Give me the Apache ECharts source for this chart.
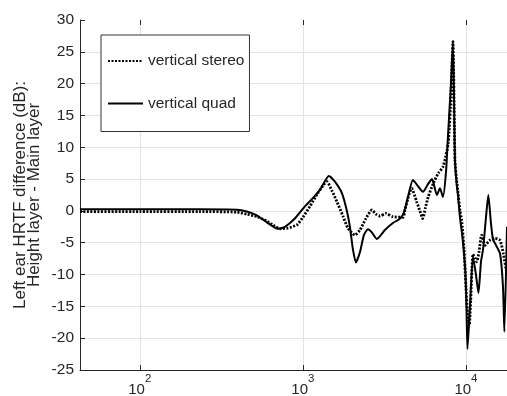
<!DOCTYPE html>
<html>
<head>
<meta charset="utf-8">
<script src="https://cdn.jsdelivr.net/npm/echarts@6/dist/echarts.min.js"></script>
<style>
html,body{margin:0;padding:0;background:#fff;}
#chart{width:507px;height:396px;}
</style>
</head>
<body>
<div id="chart"></div>
<script>
// Frequencies (Hz) and level differences (dB)
const stereoFreq = [43, 100, 233, 394, 453, 522, 601, 673, 723, 809, 919, 1000, 1104, 1236, 1404, 1506, 1617, 1760, 1889, 2084, 2238, 2435, 2651, 2805, 2968, 3230, 3566, 4108, 4226, 4409, 4645, 4985, 5222, 5425, 5643, 5866, 6300, 6763, 7250, 7780, 8091, 8322, 8560, 8750, 8931, 9189, 9410, 9721, 10000, 10214, 10476, 10700, 11039, 11400, 11630, 12017, 12480, 13085, 14040, 15070, 16170, 16940, 17850];
const stereoDb   = [-0.1, -0.1, -0.1, -0.2, -0.5, -0.9, -1.6, -2.4, -2.8, -2.7, -2.2, -1.0, 0.7, 2.8, 4.6, 3.2, 1.45, -0.8, -2.7, -3.8, -3.0, -1.2, 0.15, -0.5, -0.8, -0.4, -0.9, -1.0, 0.15, 2.0, 3.55, 1.45, 0, -1.2, 0.5, 2.2, 4.3, 5.9, 7.0, 10.6, 18, 26.6, 8, 5, 3, 0, -1.4, -6, -12, -16, -18, -14, -6.8, -7.5, -8, -6.5, -3.8, -5.4, -4.6, -4.3, -4.6, -6.7, -10];

const quadFreq = [43, 100, 233, 394, 453, 522, 601, 703, 776, 893, 1029, 1152, 1272, 1444, 1572, 1735, 1862, 1943, 2026, 2115, 2238, 2367, 2505, 2651, 2844, 3185, 3566, 3900, 4108, 4226, 4409, 4730, 5078, 5447, 5847, 6185, 6639, 6926, 7226, 7539, 7755, 8091, 8322, 8560, 8750, 8931, 9189, 9450, 9721, 9930, 10070, 10214, 10580, 11039, 11516, 11931, 12360, 12720, 13270, 13710, 14240, 14650, 15070, 16170, 16870, 17200, 17850];
const quadDb   = [0.25, 0.25, 0.25, 0.2, -0.1, -0.7, -1.8, -2.8, -2.5, -1.2, 0.7, 2.0, 3.3, 5.5, 4.6, 2.8, 0, -2.5, -6, -8.1, -6.5, -3.8, -2.9, -3.4, -4.4, -3.0, -1.9, -1.3, -0.6, 0.3, 2.2, 4.85, 3.9, 3.0, 4.2, 5.0, 2.5, 3.55, 2.2, 6, 11.7, 20, 26.6, 8, 4.5, 2.5, -1, -3.5, -6.5, -10, -15, -21.7, -15, -7.2, -10, -12.9, -8, -6.1, -1, 2.5, -2, -4.5, -5.1, -6.7, -12, -19, -2.5];

const xMin = 43, xMax = 17850;
const yMin = -25, yMax = 30, yStep = 5;
const seriesNames = ['vertical stereo', 'vertical quad'];
const yTitle = 'Left ear HRTF difference (dB):\nHeight layer - Main layer';

const FONT = '"Liberation Sans", Helvetica, Arial, sans-serif';
const INK = '#262626';

function pairs(xs, ys) { return xs.map((x, i) => [x, ys[i]]); }
function isPow10(v) { const l = Math.log10(v); return Math.abs(l - Math.round(l)) < 1e-6; }

const chart = echarts.init(document.getElementById('chart'), null, {renderer: 'canvas'});
chart.setOption({
  animation: false,
  backgroundColor: '#fff',
  textStyle: {fontFamily: FONT},
  grid: {left: 80, top: 20, right: 0, bottom: 26, containLabel: false, outerBoundsMode: 'none'},
  legend: {
    orient: 'vertical',
    left: 101, top: 35,
    padding: [18, 5, 20, 6],
    itemGap: 26.5,
    itemWidth: 35, itemHeight: 14,
    borderColor: '#333', borderWidth: 1,
    backgroundColor: '#fff',
    itemStyle: {color: 'transparent', borderWidth: 0, borderColor: 'transparent'},
    textStyle: {fontSize: 15.5, color: INK, fontFamily: FONT},
    data: seriesNames
  },
  xAxis: [{
    type: 'log', logBase: 10, min: xMin, max: xMax,
    axisLine: {show: true, onZero: false, lineStyle: {color: INK, width: 1}},
    axisTick: {show: true, inside: true, length: 5, lineStyle: {color: INK}},
    minorTick: {show: false},
    splitLine: {show: true, showMinLine: false, showMaxLine: false, lineStyle: {color: '#e3e3e3', width: 1}},
    axisLabel: {
      margin: 12,
      formatter: function (v) {
        if (!isPow10(v)) return '';
        return '{b|10}{s|' + Math.round(Math.log10(v)) + '}';
      },
      rich: {
        b: {fontSize: 15, color: INK, fontFamily: FONT, lineHeight: 16, verticalAlign: 'middle'},
        s: {fontSize: 11.5, color: INK, fontFamily: FONT, lineHeight: 12, verticalAlign: 'middle', padding: [0, 0, 22, 0]}
      }
    }
  }, {
    type: 'log', logBase: 10, min: xMin, max: xMax, position: 'top',
    axisLine: {show: false, onZero: false},
    axisTick: {show: true, inside: true, length: 5, lineStyle: {color: INK}},
    axisLabel: {show: false},
    splitLine: {show: false}
  }],
  yAxis: {
    type: 'value', min: yMin, max: yMax, interval: yStep,
    name: yTitle,
    nameLocation: 'middle',
    nameGap: 39,
    nameMoveOverlap: false,
    nameTextStyle: {fontSize: 17, color: INK, lineHeight: 13.5, fontFamily: FONT},
    axisLine: {show: true, onZero: false, lineStyle: {color: INK, width: 1}},
    axisTick: {show: true, inside: true, length: 5, lineStyle: {color: INK}},
    splitLine: {show: true, showMinLine: false, showMaxLine: false, lineStyle: {color: '#e3e3e3', width: 1}},
    axisLabel: {fontSize: 15.5, color: INK, margin: 6, fontFamily: FONT}
  },
  series: [{
    name: seriesNames[0], type: 'line', xAxisIndex: 0,
    data: pairs(stereoFreq, stereoDb),
    symbol: 'none', showSymbol: false, smooth: 0.2,
    lineStyle: {color: '#000', width: 2.8, type: [2, 1.5], cap: 'butt'},
    itemStyle: {color: '#000'},
    z: 3
  }, {
    name: seriesNames[1], type: 'line', xAxisIndex: 0,
    data: pairs(quadFreq, quadDb),
    symbol: 'none', showSymbol: false, smooth: 0.2,
    lineStyle: {color: '#000', width: 2, type: 'solid'},
    itemStyle: {color: '#000'},
    z: 2
  }]
});
</script>
</body>
</html>
